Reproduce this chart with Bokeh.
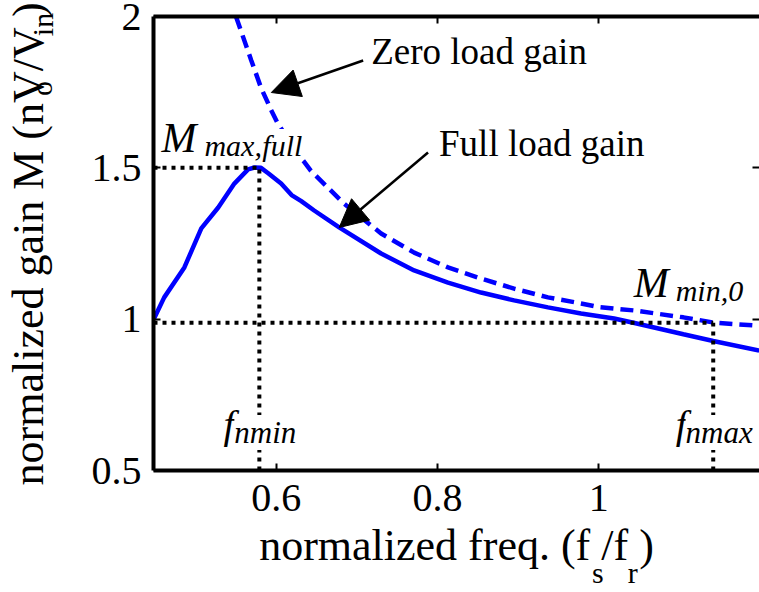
import math
from bokeh.plotting import figure
from bokeh.models import (Range1d, LinearAxis, FixedTicker, NumeralTickFormatter,
                          Label, Arrow, NormalHead)
from bokeh.embed import file_html
from bokeh.resources import INLINE

# ---------------- data ----------------
freq_full = [0.448, 0.461, 0.486, 0.507, 0.528, 0.548, 0.565, 0.573, 0.581, 0.590,
             0.606, 0.619, 0.631, 0.647, 0.678, 0.730, 0.771, 0.813, 0.854, 0.895,
             0.937, 0.978, 1.019, 1.043, 1.105, 1.142, 1.199]
gain_full = [1.000, 1.072, 1.171, 1.300, 1.369, 1.448, 1.495, 1.501, 1.500, 1.482,
             1.448, 1.410, 1.390, 1.359, 1.303, 1.217, 1.161, 1.121, 1.088, 1.062,
             1.039, 1.019, 1.002, 0.988, 0.950, 0.928, 0.896]

freq_zero = [0.550, 0.569, 0.581, 0.594, 0.602, 0.627, 0.643, 0.684, 0.730, 0.771,
             0.813, 0.854, 0.895, 0.937, 0.978, 1.000, 1.043, 1.105, 1.142, 1.199]
gain_zero = [2.000, 1.855, 1.765, 1.689, 1.646, 1.547, 1.490, 1.382, 1.283, 1.220,
             1.171, 1.134, 1.101, 1.072, 1.052, 1.040, 1.029, 1.006, 0.989, 0.978]

f_nmin = 0.579
f_nmax = 1.142
M_max_full = 1.5
M_min_0 = 0.988

x_ticks = [0.6, 0.8, 1.0]
y_ticks = [0.5, 1.0, 1.5, 2.0]

x_label = "normalized freq. (f /f )"
x_label_subs = ["s", "r"]
y_label = "normalized gain M (nV/V )"
y_label_subs = ["o", "in"]

X_START, X_END = 0.4477, 1.1994
Y_START, Y_END = 0.5, 2.0

# ---------------- layout ----------------
FIG_W, FIG_H = 759, 592
B_LEFT, B_TOP, B_BOTTOM = 152, 16, 122
FRAME_W = FIG_W - B_LEFT
FRAME_H = FIG_H - B_TOP - B_BOTTOM


def dx(px):
    return X_START + (px - B_LEFT) * (X_END - X_START) / FRAME_W


def dy(py):
    return Y_END - (py - B_TOP) * (Y_END - Y_START) / FRAME_H


SERIF = "Liberation Serif"
BLUE = "#0000ff"

p = figure(width=FIG_W, height=FIG_H, output_backend="svg", toolbar_location=None,
           x_range=Range1d(X_START, X_END), y_range=Range1d(Y_START, Y_END),
           min_border_left=B_LEFT, min_border_right=0, min_border_top=B_TOP,
           min_border_bottom=B_BOTTOM, x_axis_location=None, y_axis_location=None)
p.outline_line_color = None
p.grid.visible = False
p.background_fill_color = "white"
p.border_fill_color = "white"


def style_axis(ax, ticks, labels=True):
    ax.ticker = FixedTicker(ticks=ticks)
    ax.formatter = NumeralTickFormatter(format="0.[0]")
    ax.axis_line_width = 4
    ax.axis_line_color = "black"
    ax.major_tick_in = 7
    ax.major_tick_out = 0
    ax.major_tick_line_width = 2
    ax.minor_tick_line_color = None
    ax.major_label_text_font = SERIF
    ax.major_label_text_font_size = "40px"
    ax.major_label_text_color = "black"
    ax.axis_label_text_font = SERIF
    ax.axis_label_text_font_size = "44px"
    ax.axis_label_text_font_style = "normal"
    ax.axis_label_text_color = "black"
    if not labels:
        ax.major_label_text_font_size = "0px"
        ax.major_label_text_alpha = 0
        ax.major_label_standoff = 0


def sub_axis(ticks, texts):
    ax = LinearAxis()
    tk = [round(t, 4) for t in ticks]
    ax.ticker = FixedTicker(ticks=tk)
    ax.major_label_overrides = {t: s for t, s in zip(tk, texts)}
    ax.axis_line_color = None
    ax.major_tick_line_color = None
    ax.minor_tick_line_color = None
    ax.major_tick_in = 0
    ax.major_tick_out = 0
    ax.major_label_text_font = SERIF
    ax.major_label_text_font_size = "30px"
    ax.major_label_text_color = "black"
    return ax


left = LinearAxis()
style_axis(left, y_ticks)
left.major_label_standoff = 12
left.axis_label = y_label
left.axis_label_standoff = 36
p.add_layout(left, "left")

left_sub = sub_axis([dy(88), dy(24)], y_label_subs)
left_sub.major_label_orientation = "vertical"
left_sub.major_label_standoff = -58
p.add_layout(left_sub, "left")

bottom = LinearAxis()
style_axis(bottom, x_ticks)
bottom.major_label_standoff = 14
bottom.axis_label = x_label
bottom.axis_label_standoff = 7
p.add_layout(bottom, "below")

bottom_sub = sub_axis([dx(597), dx(632)], x_label_subs)
bottom_sub.major_label_standoff = -17
p.add_layout(bottom_sub, "below")

top = LinearAxis()
style_axis(top, x_ticks, labels=False)
p.add_layout(top, "above")

right = LinearAxis()
style_axis(right, y_ticks, labels=False)
right.axis_line_color = None
p.add_layout(right, "right")

# ---------------- curves ----------------
p.line(freq_full, gain_full, line_color=BLUE, line_width=4.5)
p.line(freq_zero, gain_zero, line_color=BLUE, line_width=4.5, line_dash="13 7")

# dotted guide lines
dot = dict(line_color="black", line_width=4, line_dash="4 5")
p.line([X_START, f_nmin], [M_max_full, M_max_full], **dot)
p.line([f_nmin, f_nmin], [Y_START, M_max_full], **dot)
p.line([X_START, f_nmax], [M_min_0, M_min_0], **dot)
p.line([f_nmax, f_nmax], [Y_START, M_min_0], **dot)


# ---------------- texts inside the frame ----------------
def txt(s, px, py, size, italic=False, bg=False):
    # py is the wanted baseline; the rendered baseline sits about a third of
    # the font size below the anchor, so the anchor is raised accordingly
    lab = Label(x=dx(px), y=dy(py - round(0.32 * size)), text=s, text_font=SERIF,
                text_font_size=f"{size}px", text_color="black",
                text_font_style="italic" if italic else "normal",
                text_align="left", text_baseline="alphabetic")
    if bg:
        lab.background_fill_color = "white"
        lab.background_fill_alpha = 1.0
    p.add_layout(lab)


txt("Zero load gain", 370, 63, 37)
txt("Full load gain", 438, 155, 37)

txt("M", 160, 150, 42, italic=True)
txt("max,", 203, 155, 30, italic=True)
txt("full", 261, 155, 30, italic=True, bg=True)

txt("M", 633, 295, 42, italic=True)
txt("min,0", 675, 300, 30, italic=True)

txt("f", 222, 437, 40, italic=True, bg=True)
txt("nmin", 233, 442, 31, italic=True, bg=True)
txt("f", 675, 437, 40, italic=True, bg=True)
txt("nmax", 685, 442, 31, italic=True, bg=True)

# arrows
head = dict(size=28, fill_color="black", line_color="black")
p.add_layout(Arrow(x_start=dx(362), y_start=dy(60), x_end=dx(270), y_end=dy(92),
                   line_width=2.5, line_color="black", end=NormalHead(**head)))
p.add_layout(Arrow(x_start=dx(427), y_start=dy(152), x_end=dx(338), y_end=dy(227),
                   line_width=2.5, line_color="black", end=NormalHead(**head)))

open("out.html", "w").write(file_html(p, INLINE))
